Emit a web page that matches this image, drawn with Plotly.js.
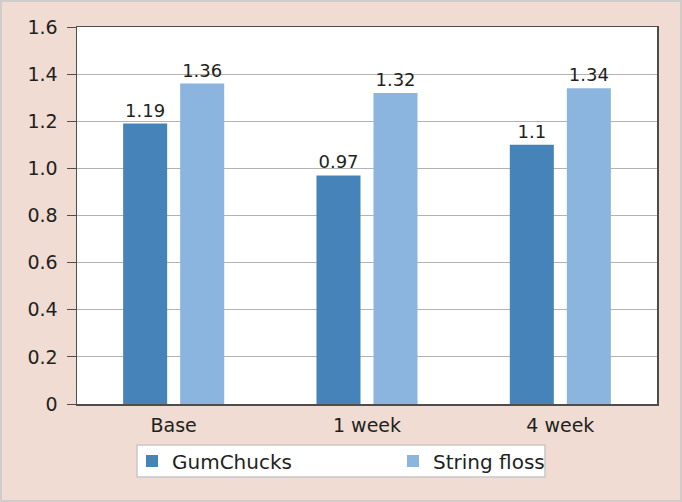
<!DOCTYPE html>
<html>
<head>
<meta charset="utf-8">
<script src="https://cdn.plot.ly/plotly-3.0.1.min.js"></script>
<style>
  html, body { margin: 0; padding: 0; background: #f0dcd2; }
  #wrap { width: 682px; height: 502px; box-sizing: border-box; border: 2px solid #cfcccb; }
  #chart { width: 678px; height: 498px; }
</style>
</head>
<body>
<div id="wrap"><div id="chart"></div></div>
<script>
// periods on the x axis
const periods = ['Base', '1 week', '4 week'];
// series values
const gumChucks = [1.19, 0.97, 1.1];
const stringFloss = [1.36, 1.32, 1.34];
const gumLabels = ['1.19', '0.97', '1.1'];
const flossLabels = ['1.36', '1.32', '1.34'];
// y tick labels
const yTicks = [0, 0.2, 0.4, 0.6, 0.8, 1.0, 1.2, 1.4, 1.6];
const yTickText = ['0', '0.2', '0.4', '0.6', '0.8', '1.0', '1.2', '1.4', '1.6'];

const fam = 'DejaVu Sans, Liberation Sans, sans-serif';
const ink = '#231f20';

const traces = [
  {
    type: 'bar', name: 'GumChucks', x: periods, y: gumChucks,
    text: gumLabels, textposition: 'outside', cliponaxis: false,
    textfont: {family: fam, size: 18, color: ink},
    marker: {color: '#4683b8'},
    legend: 'legend'
  },
  {
    type: 'bar', name: 'String floss', x: periods, y: stringFloss,
    text: flossLabels, textposition: 'outside', cliponaxis: false,
    textfont: {family: fam, size: 18, color: ink},
    marker: {color: '#8bb4de'},
    legend: 'legend2'
  }
];

const legendBase = {
  xref: 'container', yref: 'container',
  xanchor: 'left', yanchor: 'middle',
  y: 1 - 459 / 498,
  bgcolor: 'rgba(0,0,0,0)',
  borderwidth: 0,
  font: {family: fam, size: 20, color: ink}
};

const layout = {
  width: 678, height: 498,
  margin: {l: 75, r: 23, t: 25, b: 96, autoexpand: false},
  paper_bgcolor: '#f0dcd2',
  plot_bgcolor: '#ffffff',
  font: {family: fam, size: 19, color: ink},
  barmode: 'group',
  bargap: 0.41,
  bargroupgap: 0.228,
  showlegend: true,
  legend: Object.assign({}, legendBase, {x: 130 / 678}),
  legend2: Object.assign({}, legendBase, {x: 391 / 678}),
  shapes: [{
    type: 'rect', xref: 'paper', yref: 'paper', layer: 'above',
    x0: (135 - 75) / 580, x1: (543 - 75) / 580,
    y0: (402 - 443) / 377, y1: (402 - 475) / 377,
    fillcolor: '#ffffff', line: {color: '#c8c8c8', width: 1.5}
  }],
  xaxis: {
    showline: true, mirror: true, linecolor: '#4d4d4d', linewidth: 1.5,
    ticks: '', showgrid: false, ticklabelstandoff: 4,
    tickfont: {family: fam, size: 19, color: ink}
  },
  yaxis: {
    range: [0, 1.6],
    tickvals: yTicks, ticktext: yTickText,
    showline: true, mirror: true, linecolor: '#4d4d4d', linewidth: 1.5,
    ticks: 'outside', ticklen: 9, tickcolor: '#4d4d4d', tickwidth: 1,
    ticklabelstandoff: 5,
    showgrid: true, gridcolor: '#b3b3b3', gridwidth: 1,
    zeroline: false,
    tickfont: {family: fam, size: 19, color: ink}
  }
};

Plotly.newPlot('chart', traces, layout, {displayModeBar: false, staticPlot: true});
</script>
</body>
</html>
